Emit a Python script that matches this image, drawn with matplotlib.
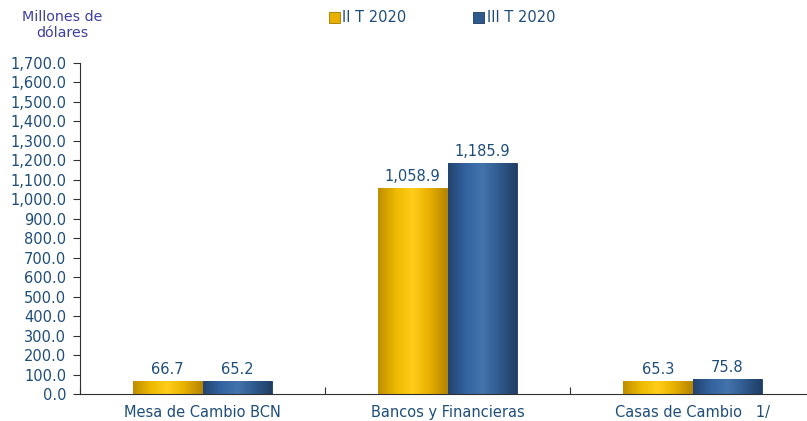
import matplotlib
matplotlib.use("Agg")
import matplotlib.pyplot as plt
import numpy as np
from matplotlib.ticker import FuncFormatter, MultipleLocator
from matplotlib.colors import LinearSegmentedColormap

categories = ["Mesa de Cambio BCN", "Bancos y Financieras", "Casas de Cambio   1/"]
series_names = ["II T 2020", "III T 2020"]
q2 = [66.7, 1058.9, 65.3]
q3 = [65.2, 1185.9, 75.8]

gold = "#E8B000"
gold_edge = "#A07800"
blue = "#2F5A8E"
blue_edge = "#1C3A60"
txt = "#1F4E79"

gold_cmap = LinearSegmentedColormap.from_list("g", ["#C08E00", "#EDB900", "#FFCE1A", "#E8B000", "#B88600"])
blue_cmap = LinearSegmentedColormap.from_list("b", ["#24446E", "#3262A0", "#4474AC", "#2F5A8E", "#213F66"])

fig = plt.figure(figsize=(8.07, 4.21), dpi=100)
ax = fig.add_axes([80/807, 1-394/421, 735/807, (394-63)/421])

x = np.arange(len(categories))
w = 0.28
b1 = ax.bar(x - w/2 - 0.002, q2, w, color=gold, edgecolor=gold_edge, linewidth=0.6, label=series_names[0])
b2 = ax.bar(x + w/2 + 0.002, q3, w, color=blue, edgecolor=blue_edge, linewidth=0.6, label=series_names[1])

grad = np.linspace(0, 1, 64).reshape(1, -1)
for bars, cmap in ((b1, gold_cmap), (b2, blue_cmap)):
    for r in bars:
        x0, y0, bw, bh = r.get_x(), r.get_y(), r.get_width(), r.get_height()
        im = ax.imshow(grad, cmap=cmap, aspect="auto", extent=(x0, x0 + bw, y0, y0 + bh),
                       interpolation="bicubic", zorder=r.get_zorder() + 0.1)
        im.set_clip_path(r)

for bars, vals in ((b1, q2), (b2, q3)):
    for r, v in zip(bars, vals):
        ax.annotate(f"{v:,.1f}", (r.get_x() + r.get_width()/2, v), xytext=(0, 3),
                    textcoords="offset points", ha="center", va="bottom",
                    fontsize=10.5, color=txt)

ax.set_xlim(-0.5, 2.5)
ax.set_ylim(0, 1700)
ax.yaxis.set_major_locator(MultipleLocator(100))
ax.yaxis.set_major_formatter(FuncFormatter(lambda v, p: f"{v:,.1f}"))
ax.set_xticks([-0.5, 0.5, 1.5], minor=False)
ax.set_xticklabels([])
ax.set_xticks(x, minor=True)
ax.set_xticklabels(categories, minor=True)
ax.tick_params(axis="x", which="minor", length=0, pad=8, labelsize=10.5, labelcolor=txt)
ax.tick_params(axis="x", which="major", length=5, direction="in", color="#303030")
ax.tick_params(axis="y", length=5, color="#303030", labelsize=10.5, labelcolor=txt, pad=5)
for s in ("top", "right"):
    ax.spines[s].set_visible(False)
ax.spines["left"].set_color("#303030")
ax.spines["bottom"].set_color("#303030")

fig.text(62/807, 1-25/421, "Millones de\ndólares", ha="center", va="center",
         fontsize=10.3, color="#3F3FA0", linespacing=1.15)

fig.legend(handles=[b1, b2], labels=series_names, loc="center", bbox_to_anchor=(442/807, 1-18/421),
           ncol=2, frameon=False, fontsize=10.5, handlelength=0.75, handleheight=0.75,
           handletextpad=0.15, columnspacing=4.6, labelcolor=txt)

fig.savefig("out.png", dpi=100)
